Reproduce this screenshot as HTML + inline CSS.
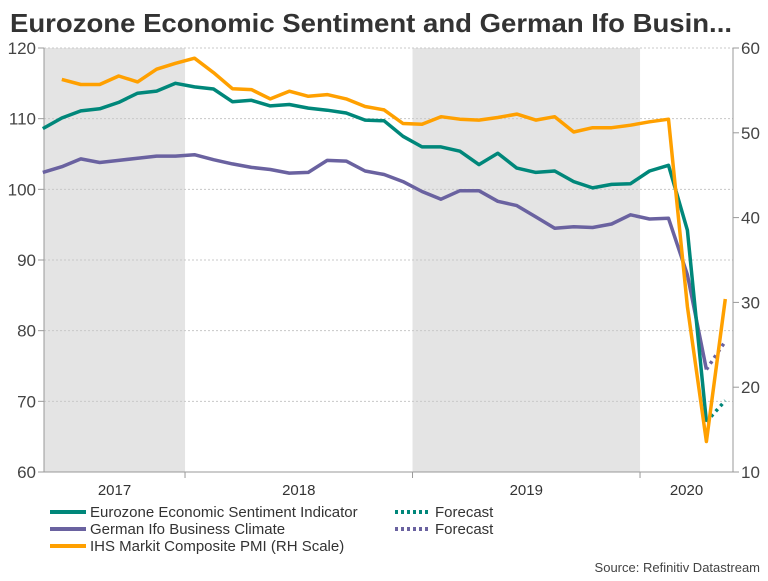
<!DOCTYPE html>
<html><head><meta charset="utf-8"><style>
body{margin:0;background:#fff;font-family:"Liberation Sans",sans-serif;}
svg text{font-family:"Liberation Sans",sans-serif;}
</style></head><body>
<svg id="chart" width="768" height="576" xmlns="http://www.w3.org/2000/svg">
<text x="10" y="32" font-size="26" font-weight="bold" fill="#333" textLength="722" lengthAdjust="spacingAndGlyphs">Eurozone Economic Sentiment and German Ifo Busin...</text>
<g id="plot"></g>
</svg>
<script>
const esi=[108.6,110.1,111.1,111.4,112.3,113.6,113.9,115.0,114.5,114.2,112.4,112.6,111.8,112.0,111.5,111.2,110.8,109.8,109.7,107.5,106.0,106.0,105.4,103.5,105.1,103.0,102.4,102.6,101.1,100.2,100.7,100.8,102.6,103.4,94.2,67.1];
const ifo=[102.4,103.2,104.3,103.8,104.1,104.4,104.7,104.7,104.9,104.2,103.6,103.1,102.8,102.3,102.4,104.1,104.0,102.6,102.1,101.1,99.7,98.6,99.8,99.8,98.3,97.7,96.1,94.5,94.7,94.6,95.1,96.4,95.8,95.9,87.9,74.5];
const pmi=[null,56.3,55.7,55.7,56.7,56.0,57.5,58.2,58.8,57.1,55.2,55.1,54.0,54.9,54.3,54.5,54.0,53.1,52.7,51.1,51.0,51.9,51.6,51.5,51.8,52.2,51.5,51.9,50.1,50.6,50.6,50.9,51.3,51.6,29.5,13.6,30.4];
const esiForecast=[67.1,70.1];
const ifoForecast=[74.5,78.5];
const leftTicks=[60,70,80,90,100,110,120];
const rightTicks=[10,20,30,40,50,60];
const years=["2017","2018","2019","2020"];
const NS="http://www.w3.org/2000/svg";
const g=document.getElementById('plot');
const X0=44,X1=733,Y0=48,Y1=472;
const PM=(640-185)/24;
function x(i){return 194.5+(i-8)*PM;}
function yl(v){return Y1-(v-60)/60*(Y1-Y0);}
function yr(v){return Y1-(v-10)/50*(Y1-Y0);}
function el(t,a){const e=document.createElementNS(NS,t);for(const k in a)e.setAttribute(k,a[k]);g.appendChild(e);return e;}
const yb=[x(-4.5),x(7.5),x(19.5),x(31.5)];
let s=el('rect',{x:X0,y:Y0,width:yb[1]-X0,height:Y1-Y0,fill:'#e4e4e4'});

s=el('rect',{x:yb[2],y:Y0,width:yb[3]-yb[2],height:Y1-Y0,fill:'#e4e4e4'});

leftTicks.forEach(v=>{
 const l=el('line',{x1:X0,x2:X1,y1:yl(v),y2:yl(v),stroke:'#c8c8c8','stroke-dasharray':'2,2','stroke-width':1});
 
 el('line',{x1:X0-6,x2:X0,y1:yl(v),y2:yl(v),stroke:'#999'});
 const t=el('text',{x:X0-8,y:yl(v)+6,'text-anchor':'end','font-size':17,fill:'#444'});t.textContent=v;
 
});
rightTicks.forEach(v=>{
 el('line',{x1:X1,x2:X1+6,y1:yr(v),y2:yr(v),stroke:'#999'});
 const t=el('text',{x:X1+8,y:yr(v)+6,'font-size':17,fill:'#444'});t.textContent=v;
 
});
el('line',{x1:X0,x2:X0,y1:Y0,y2:Y1,stroke:'#999'});
el('line',{x1:X1,x2:X1,y1:Y0,y2:Y1,stroke:'#999'});
el('line',{x1:X0,x2:X1,y1:Y1,y2:Y1,stroke:'#999'});
[yb[1],yb[2],yb[3]].forEach(b=>el('line',{x1:b,x2:b,y1:Y1,y2:Y1+6,stroke:'#999'}));
const yc=[(X0+yb[1])/2,(yb[1]+yb[2])/2,(yb[2]+yb[3])/2,(yb[3]+X1)/2];
years.forEach((yv,i)=>{const t=el('text',{x:yc[i],y:495,'text-anchor':'middle','font-size':15,fill:'#333'});t.textContent=yv;
 });
function path(arr,fy,off){let d='',m=true;arr.forEach((v,i)=>{if(v==null){m=true;return;}d+=(m?'M':'L')+x(i+off).toFixed(1)+','+fy(v).toFixed(1);m=false;});return d;}
let p=el('path',{d:path(ifo,yl,0),fill:'none',stroke:'#6a62a0','stroke-width':3.5,'stroke-linejoin':'round'});

p=el('path',{d:path(esi,yl,0),fill:'none',stroke:'#00877a','stroke-width':3.5,'stroke-linejoin':'round'});

p=el('path',{d:path(esiForecast,yl,35),fill:'none',stroke:'#00877a','stroke-width':3.5,'stroke-dasharray':'3,4'});

p=el('path',{d:path(ifoForecast,yl,35),fill:'none',stroke:'#6a62a0','stroke-width':3.5,'stroke-dasharray':'3,4'});

p=el('path',{d:path(pmi,yr,0),fill:'none',stroke:'#ffa000','stroke-width':3.5,'stroke-linejoin':'round'});

const leg=[[50,512,'#00877a','Eurozone Economic Sentiment Indicator',0],[50,529,'#6a62a0','German Ifo Business Climate',0],[50,546,'#ffa000','IHS Markit Composite PMI (RH Scale)',0],[395,512,'#00877a','Forecast',1],[395,529,'#6a62a0','Forecast',1]];
leg.forEach(L=>{
 const a={x1:L[0],x2:L[0]+36,y1:L[1],y2:L[1],stroke:L[2],'stroke-width':4};if(L[4])a['stroke-dasharray']='3,3';
 el('line',a);
 const t=el('text',{x:L[0]+40,y:L[1]+5,'font-size':15,fill:'#333'});t.textContent=L[3];
 
});
const src=el('text',{x:760,y:572,'text-anchor':'end','font-size':13,fill:'#444'});src.textContent='Source: Refinitiv Datastream';

</script>
</body></html>
